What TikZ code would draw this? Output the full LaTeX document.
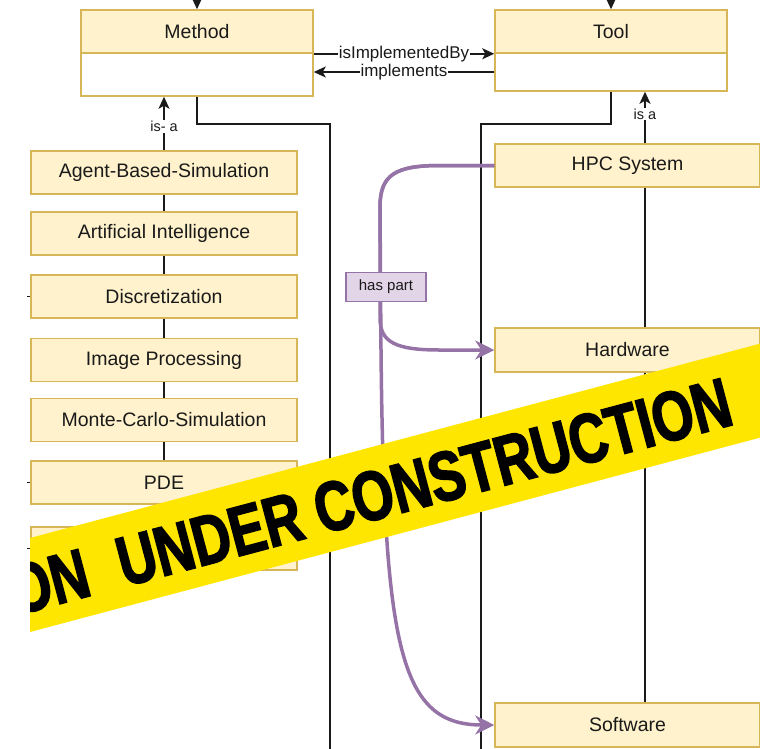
\documentclass[tikz,border=0pt]{standalone}
\usepackage{fontspec}
\setmainfont{Liberation Sans}
\newfontfamily\tapefont[FakeStretch=0.76,FakeBold=2.2]{Liberation Sans}
\usetikzlibrary{arrows.meta}

\definecolor{boxfill}{HTML}{FFF2CC}
\definecolor{boxline}{HTML}{D6B656}
\definecolor{partfill}{HTML}{E1D5E7}
\definecolor{partline}{HTML}{9673A6}
\definecolor{tapeyellow}{HTML}{FFE600}
\definecolor{edgeink}{HTML}{1A1A1A}

\tikzset{
  boxtext/.style={font=\fontsize{19.5pt}{22pt}\selectfont, text=edgeink},
  hdr/.style={boxtext, draw=boxline, fill=boxfill, line width=1.5pt,
    minimum width=232, minimum height=43, inner sep=0pt},
  bodybox/.style={draw=boxline, fill=white, line width=1.5pt,
    minimum width=232, inner sep=0pt},
  lbox/.style={boxtext, draw=boxline, fill=boxfill, line width=1.5pt,
    minimum width=266, minimum height=43, inner sep=0pt},
  rbox/.style={boxtext, draw=boxline, fill=boxfill, line width=1.5pt,
    minimum width=265, minimum height=43, inner sep=0pt},
  link/.style={draw=edgeink, line width=1.5pt},
  arr/.style={link, -{Stealth[length=12pt,width=11pt,inset=3pt]}},
  lbl/.style={fill=white, inner sep=1pt, text=edgeink,
    font=\fontsize{17pt}{19pt}\selectfont},
  smalllbl/.style={fill=white, inner sep=1pt, text=edgeink,
    font=\fontsize{14.5pt}{16pt}\selectfont},
  haspart/.style={draw=partline, line width=3.5pt,
    -{Stealth[length=19pt,width=19pt,inset=6pt]}},
  partbox/.style={draw=partline, fill=partfill, line width=1.5pt,
    minimum width=80, minimum height=29, inner sep=0pt,
    font=\fontsize{15pt}{17pt}\selectfont, text=edgeink},
  tapetext/.style={inner sep=0pt, text=black,
    font=\tapefont\bfseries\fontsize{70pt}{71pt}\selectfont}
}

\begin{document}
\begin{tikzpicture}[x=1pt,y=-1pt]
\useasboundingbox (0,0) rectangle (760,748);
\clip (0,0) rectangle (760,748);

% class boxes
\node[bodybox, minimum height=43] (methodbody) at (197,74.5) {};
\node[hdr] (methodhead) at (197,31.5) {Method};
\node[bodybox, minimum height=38] (toolbody) at (611,72) {};
\node[hdr] (toolhead) at (611,31.5) {Tool};

% method subclasses
\node[lbox] (b1) at (164,172.5) {Agent-Based-Simulation};
\node[lbox] (b2) at (164,233.5) {Artificial Intelligence};
\node[lbox] (b3) at (164,296.5) {Discretization};
\node[lbox] (b4) at (164,360) {Image Processing};
\node[lbox] (b5) at (164,420) {Monte-Carlo-Simulation};
\node[lbox] (b6) at (164,482.5) {PDE};
\node[lbox] (b7) at (164,548.5) {};

% tool subclasses
\node[rbox] (hpc) at (627.5,165.5) {HPC System};
\node[rbox, minimum height=44] (hardware) at (627.5,350) {Hardware};
\node[rbox, minimum height=44] (software) at (627.5,725) {Software};

% incoming edges from above
\coordinate (mtop) at (197,-12);
\coordinate (ttop) at (611,-12);
\draw[arr] (mtop) -- (methodhead.north);
\draw[arr] (ttop) -- (toolhead.north);

% associations between Method and Tool
\draw[arr] (methodhead.south east) -- node[lbl]{isImplementedBy} (toolhead.south west);
\draw[arr] (toolbody.west) -- node[lbl]{implements} (toolbody.west -| methodbody.east);

% long outgoing edges
\coordinate (mbend) at (330,124);
\coordinate (mend) at (330,760);
\coordinate (tbend) at (481,124);
\coordinate (tend) at (481,760);
\draw[link] (methodbody.south) |- (mbend) -- (mend);
\draw[link] (toolbody.south) |- (tbend) -- (tend);

% is-a hierarchy on the left
\draw[arr] (b1.north) -- node[smalllbl, pos=0.44]{is- a} (methodbody.south -| b1.north);
\draw[link] (b1.south) -- (b2.north);
\draw[link] (b2.south) -- (b3.north);
\draw[link] (b3.south) -- (b4.north);
\draw[link] (b4.south) -- (b5.north);
\draw[link] (b5.south) -- (b6.north);
\draw[link] (b6.south) -- (b7.north);

% edge stubs entering from the left
\coordinate (s3) at (27,296.5);
\coordinate (s6) at (27,482.5);
\coordinate (s7) at (27,548.5);
\draw[link] (s3) -- (b3.west);
\draw[link] (s6) -- (b6.west);
\draw[link] (s7) -- (b7.west);

% is-a hierarchy on the right
\coordinate (rx) at (645,0);
\draw[arr] (hpc.north -| rx) -- node[smalllbl, pos=0.57]{is a} (toolbody.south -| rx);
\draw[link] (hpc.south -| rx) -- (hardware.north -| rx);
\draw[link] (hardware.south -| rx) -- (software.north -| rx);

% has part
\draw[haspart] (hpc.west) -- (440,165.5)
  .. controls (395,165.5) and (380,175) .. (380,207)
  -- (380,318) .. controls (380,342) and (395,350) .. (440,350)
  -- (hardware.west);
\draw[haspart] (hpc.west) -- (440,165.5)
  .. controls (395,165.5) and (380,175) .. (380,207)
  -- (381,350) .. controls (384,650) and (400,725) .. (software.west);
\node[partbox] (hp) at (386,287) {has part};

% construction tape
\begin{scope}
  \clip (30,538) -- (770,341) -- (770,435) -- (30,632) -- cycle;
  \fill[tapeyellow] (30,538) -- (770,341) -- (770,435) -- (30,632) -- cycle;
  \node[tapetext, anchor=base east, rotate=14.9] (tapeword) at (736,424)
    {ON\hspace{32pt}UNDER CONSTRUCTION};
\end{scope}
\end{tikzpicture}
\end{document}
